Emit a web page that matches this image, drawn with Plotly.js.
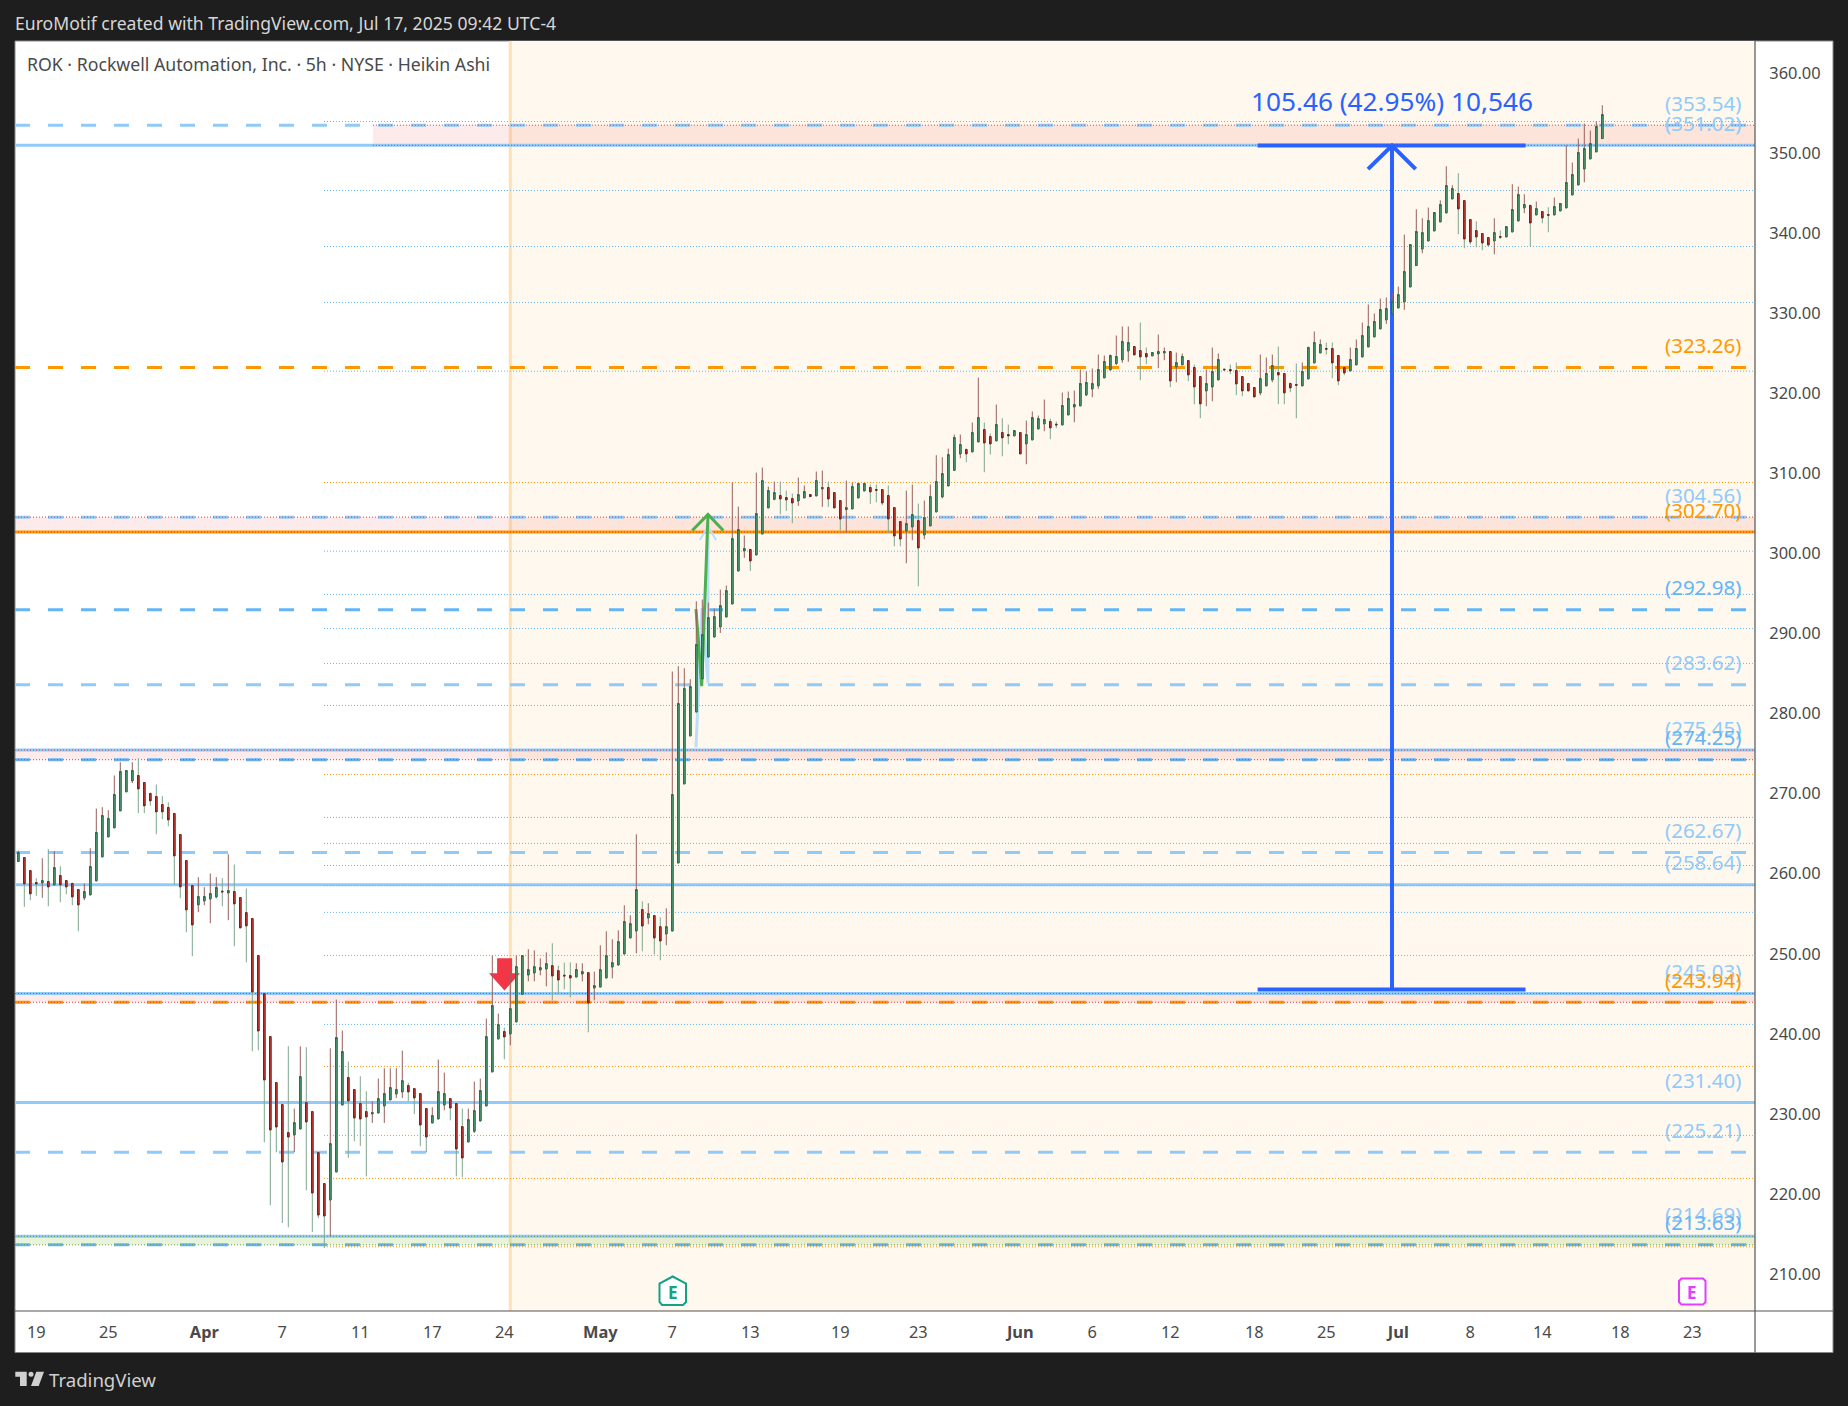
<!DOCTYPE html>
<html><head><meta charset="utf-8">
<script src="https://cdn.plot.ly/plotly-3.0.1.min.js"></script>
<style>html,body{margin:0;padding:0;background:#1e1e1e;}#c{width:1848px;height:1406px;}</style>
</head><body><div id="c"></div>
<script>
const openPrices=[261.53,262.03,260.40,258.90,258.86,259.03,258.61,259.78,259.15,258.78,258.03,256.99,257.36,259.11,262.11,264.61,265.74,267.86,270.24,271.61,272.28,271.40,270.03,269.65,268.65,268.28,267.53,264.90,261.65,258.53,256.11,256.61,256.86,257.11,257.82,257.61,257.78,257.03,255.15,254.40,249.78,245.03,239.65,233.90,231.15,227.65,227.36,228.11,231.40,230.28,225.15,221.28,219.24,222.74,231.11,234.53,233.03,231.28,230.28,229.99,230.11,230.99,231.74,232.49,232.74,233.53,233.15,232.53,230.65,228.86,229.36,231.11,231.90,231.28,228.40,226.49,227.82,229.11,230.99,235.24,239.36,240.28,239.99,241.49,244.93,247.35,247.60,247.98,248.10,248.52,247.89,247.31,247.27,247.10,247.48,247.64,245.73,245.85,246.98,248.35,248.60,249.98,251.98,252.85,255.52,254.48,254.77,253.39,252.48,252.85,261.35,271.23,277.23,280.22,284.34,287.09,289.59,290.84,292.09,293.72,297.84,300.34,300.51,299.84,302.47,305.72,306.80,307.26,307.01,306.88,306.59,306.97,307.38,307.22,308.09,308.26,307.63,306.63,305.51,305.59,306.97,307.84,308.26,308.01,308.01,307.26,305.76,304.01,302.84,303.34,304.13,302.34,303.47,305.22,307.09,308.47,310.42,312.47,313.01,312.72,313.97,315.51,314.63,314.09,315.13,314.88,314.72,315.13,313.72,314.22,315.59,316.22,316.51,316.17,316.09,317.34,318.34,318.47,319.84,320.59,320.97,321.97,322.97,323.76,324.22,325.34,325.88,325.38,325.01,324.72,324.97,325.09,325.26,323.34,323.59,324.13,323.26,322.13,320.34,320.84,321.72,323.05,323.01,322.88,322.13,321.26,320.76,320.09,320.97,321.72,322.63,322.51,321.26,321.13,320.97,321.84,323.84,325.09,325.63,325.63,324.76,323.26,322.84,323.59,324.59,325.84,327.09,328.09,329.22,329.96,330.71,331.46,333.33,336.00,338.08,339.08,340.33,341.46,342.58,344.33,345.00,344.12,341.75,340.37,340.00,339.50,339.08,339.62,339.58,340.21,341.58,343.21,343.50,342.33,342.75,342.37,342.33,342.83,343.21,344.83,346.08,348.08,349.33,350.21,351.87];
const highPrices=[262.90,262.03,260.40,259.44,261.94,263.07,262.82,260.94,259.15,258.90,258.03,258.78,263.19,268.15,268.32,267.94,272.28,273.94,272.90,273.94,274.44,271.40,270.15,271.15,269.69,268.94,267.53,264.90,261.65,258.53,259.57,258.32,260.03,259.57,259.44,262.44,261.15,257.03,258.15,254.40,249.78,245.03,239.65,233.90,231.15,238.44,230.65,238.44,238.32,230.28,225.15,221.28,238.19,244.28,240.40,236.53,233.03,234.69,232.82,231.57,234.40,235.69,235.69,235.69,237.90,233.90,233.15,232.53,230.65,230.82,236.78,235.15,231.99,231.28,230.65,230.65,234.03,234.40,241.90,249.78,242.53,240.78,247.90,249.78,249.77,250.56,250.43,249.43,250.18,251.31,248.52,248.89,248.93,248.81,248.81,247.64,247.77,251.06,252.81,251.81,252.93,256.06,254.81,264.93,256.56,256.31,254.77,254.56,255.68,285.27,285.93,285.68,284.31,294.05,294.26,293.88,293.13,295.51,296.01,308.88,305.88,302.26,300.51,310.13,310.76,308.38,309.01,309.01,307.88,307.51,309.51,308.51,307.38,310.26,310.38,309.01,307.63,306.63,309.13,308.88,308.84,308.84,308.63,308.63,308.01,308.51,305.76,304.01,307.88,308.63,306.26,306.63,308.63,312.30,312.05,313.13,314.88,314.88,313.13,316.38,322.01,316.38,315.01,318.63,316.92,316.13,315.38,315.13,316.63,317.76,317.26,319.26,316.88,316.51,320.13,320.26,320.38,323.01,322.80,323.13,324.88,324.76,324.88,327.26,328.38,328.38,325.88,328.88,325.76,325.13,327.38,325.76,325.26,325.13,325.01,324.13,323.63,322.13,323.01,325.76,325.01,323.05,323.63,323.88,322.13,321.26,320.76,324.88,324.51,324.88,325.88,322.51,321.38,323.76,323.88,325.88,327.76,326.76,326.38,326.38,324.76,323.26,325.76,326.76,328.88,331.13,330.01,331.88,332.01,332.62,333.37,339.87,338.62,343.04,341.91,343.25,342.62,344.16,348.41,346.04,347.54,344.12,341.75,341.54,340.00,339.50,341.91,340.37,340.87,346.16,345.87,344.91,343.62,344.00,342.75,343.29,344.50,343.75,351.00,348.87,351.87,353.75,352.87,354.00,356.04];
const lowPrices=[261.53,255.86,256.69,257.24,256.99,255.94,258.61,256.44,257.44,256.07,252.82,256.69,257.36,259.11,262.11,264.61,265.74,267.86,270.24,271.32,267.57,267.57,268.49,264.94,266.82,265.94,258.65,256.94,252.69,249.69,255.19,256.07,253.82,256.94,255.94,254.19,250.94,253.24,248.94,237.82,237.94,226.44,218.57,225.19,216.36,215.82,225.19,228.11,220.44,215.24,216.99,213.24,214.69,222.74,231.11,224.49,226.57,225.99,222.19,228.86,230.11,228.86,231.74,231.99,231.99,231.57,229.99,225.94,225.19,228.86,229.36,230.44,229.19,222.19,222.07,226.49,227.61,229.11,230.99,235.24,239.36,236.82,238.57,241.49,244.93,246.56,246.56,247.31,245.93,244.18,244.93,245.56,244.56,247.10,246.56,240.18,244.18,245.85,246.98,246.93,248.60,249.98,251.98,250.06,250.31,253.68,249.93,249.18,251.06,252.85,261.35,271.23,277.23,280.22,284.34,287.09,289.59,290.09,292.09,293.72,297.84,299.47,297.84,299.84,302.47,305.72,306.67,304.92,305.34,303.80,305.97,306.97,307.13,307.22,305.84,305.84,305.72,302.92,302.59,305.59,306.97,307.84,306.22,306.42,306.05,302.59,300.92,300.92,298.80,301.67,295.92,301.80,303.47,305.22,306.92,308.47,310.42,311.92,311.42,312.72,313.97,310.17,312.38,314.09,312.17,313.67,314.72,312.47,311.17,314.22,315.59,315.30,314.30,315.67,316.09,317.34,316.42,318.47,319.67,319.55,320.59,321.97,322.97,323.55,323.84,323.97,324.84,321.67,323.67,324.72,323.17,324.17,320.80,321.42,323.59,321.55,318.67,316.92,318.42,319.05,321.72,322.97,322.42,319.80,319.67,320.34,319.59,319.80,320.97,321.42,318.67,318.67,320.17,316.92,320.97,321.84,323.84,325.09,324.88,321.92,321.05,322.30,322.84,323.59,324.59,325.84,327.09,328.09,328.72,329.96,330.71,330.46,333.33,336.00,337.54,339.08,340.33,341.46,342.58,344.33,339.91,338.16,338.66,338.29,337.91,338.41,337.41,339.33,339.58,340.21,341.58,342.54,338.37,342.33,341.29,340.16,342.33,342.83,343.21,344.83,346.08,346.41,349.33,350.21,351.87];
const closePrices=[262.65,258.74,257.49,258.74,259.15,258.36,260.78,258.61,258.36,257.11,256.11,257.78,260.90,265.15,267.28,266.90,269.90,272.78,272.90,272.90,270.61,268.49,269.11,267.74,267.74,266.74,262.24,258.36,255.49,253.61,257.15,257.15,257.53,258.28,257.74,257.90,256.24,253.24,253.49,245.24,240.36,234.24,227.99,228.36,223.99,227.11,228.90,234.65,228.99,220.11,217.36,217.24,226.28,239.53,237.78,231.61,229.49,229.36,229.61,230.15,231.90,232.53,233.28,233.03,234.15,232.74,231.99,228.61,227.11,229.78,232.78,232.53,230.74,225.61,224.49,229.28,230.40,232.90,239.65,243.53,241.15,239.61,243.15,248.40,249.77,248.02,248.39,248.27,248.77,247.23,246.73,247.23,246.98,248.02,247.77,243.85,246.02,248.02,249.77,248.89,251.52,254.02,253.77,258.02,253.48,255.02,251.98,251.60,253.39,269.89,281.27,283.14,283.39,288.63,289.88,292.01,292.13,293.51,295.38,301.88,303.01,300.63,299.09,305.01,309.13,307.88,307.63,306.84,306.72,306.34,307.38,307.76,307.13,309.13,308.26,306.84,305.72,304.34,305.76,308.38,308.76,308.76,307.72,307.92,306.34,304.34,302.22,301.84,303.76,304.88,300.72,304.51,307.13,309.01,310.01,312.38,314.51,313.63,312.47,315.13,317.01,313.84,313.72,316.13,314.47,314.72,315.38,312.47,314.88,317.01,316.88,316.76,315.72,316.09,318.51,319.38,318.63,321.26,321.38,321.26,323.01,324.01,324.76,324.63,326.51,326.38,324.84,324.59,324.59,325.13,325.26,325.26,321.59,323.88,324.63,322.34,320.84,318.72,321.26,322.76,324.26,322.97,322.84,321.22,320.34,320.34,319.59,321.88,322.51,323.51,322.34,320.09,320.72,321.05,322.76,325.76,326.38,326.13,325.55,323.84,321.59,322.59,324.26,325.63,327.26,328.38,329.01,330.51,330.63,331.54,332.37,335.25,338.62,340.25,340.12,341.62,342.62,343.62,346.00,345.62,343.08,339.33,338.96,339.58,338.83,338.58,340.12,339.54,340.87,343.00,344.87,343.62,341.33,343.12,341.96,342.29,343.37,343.75,346.37,347.37,350.12,350.62,351.25,353.37,354.87];

const yTicks=[210,220,230,240,250,260,270,280,290,300,310,320,330,340,350,360];
const xTickIdx=[3,15,31,44,57,69,81,97,109,122,137,150,167,179,192,206,218,230,242,254,267,279];
const xTickText=['19','25','<b>Apr</b>','7','11','17','24','<b>May</b>','7','13','19','23','<b>Jun</b>','6','12','18','25','<b>Jul</b>','8','14','18','23'];

const solidBlue=[351.02,275.45,258.64,245.03,231.40,214.69];
const dashedBlue=[353.54,304.56,283.62,262.67,225.21];
const dashedDeep=[292.98,274.25,213.63];
const solidOrange=[302.70];
const dashedOrange=[323.26,243.94];
const dottedBlue=[354.0,345.38,338.38,331.39,322.80,300.31,294.90,290.65,286.28,281.03,267.04,263.79,261.03,258.54,255.17,241.17];
const dottedOrange=[308.89,272.41,249.79,235.92,227.30,221.93,213.38];
const redZones=[[353.54,351.02,59.1],[304.56,302.70,-0.55],[275.45,274.25,-0.55],[245.03,243.94,-0.55]];
const greenZones=[[214.69,213.63,-0.55]];
const levelLabels=[['(353.54)',353.54,'#90CAF9'],['(351.02)',351.02,'#90CAF9'],['(323.26)',323.26,'#FF9800'],['(304.56)',304.56,'#90CAF9'],['(302.70)',302.70,'#FF9800'],['(292.98)',292.98,'#64B5F6'],['(283.62)',283.62,'#90CAF9'],['(275.45)',275.45,'#90CAF9'],['(274.25)',274.25,'#64B5F6'],['(262.67)',262.67,'#90CAF9'],['(258.64)',258.64,'#90CAF9'],['(245.03)',245.03,'#90CAF9'],['(243.94)',243.94,'#FF9800'],['(231.40)',231.40,'#90CAF9'],['(225.21)',225.21,'#90CAF9'],['(214.69)',214.69,'#90CAF9'],['(213.63)',213.63,'#64B5F6']];
const rangeText='105.46 (42.95%) 10,546';
const rangeTop=351.0, rangeBottom=245.54, rangeLeft=206.55, rangeRight=251.2, rangeMid=228.95;
const greenArrow=[[112.95,293.06],[113.9,283.44],[114.95,304.9]];
const greenHead=[[112.33,302.9],[114.95,304.9],[117.5,302.9]];
const paleArrow=[[112.95,275.8],[113.95,293.2],[114.95,283.8],[114.95,304.0]];
const paleHead=[[113.6,301.7],[114.95,303.4],[116.3,301.7]];
const redMarker=[[79.8,249.45],[82.3,249.45],[82.3,247.58],[83.6,247.58],[81.03,245.41],[78.45,247.58],[79.8,247.58]];

const W=1848,H=1406,L=15,R=93,T=41,B=95;
const xMin=-0.55,xMax=289.45,yMin=205.36,yMax=364.06;
const px=v=>(v-L)/(W-L-R), py=v=>1-(v-T)/(H-T-B);
const pathData=a=>a.map((p,i)=>(i?'L':'M')+p[0]+' '+p[1]).join(' ');
const pathPx=a=>a.map((p,i)=>(i?'L':'M')+px(p[0])+' '+py(p[1])).join(' ');

const shapes=[];
function hline(y,color,w,dash,x0,x1){shapes.push({type:'line',xref:'x',yref:'y',layer:'below',x0:x0===undefined?xMin:x0,x1:x1===undefined?xMax:x1,y0:y,y1:y,line:{color,width:w,dash:dash||'solid'}});}
shapes.push({type:'rect',xref:'paper',yref:'paper',layer:'below',x0:px(15),x1:px(1833),y0:py(1352.5),y1:py(41),fillcolor:'#ffffff',line:{color:'#8a8a8a',width:1}});
shapes.push({type:'rect',xref:'x',yref:'y',layer:'below',x0:82,x1:xMax,y0:yMin,y1:yMax,fillcolor:'#FFF8EE',line:{width:0}});
shapes.push({type:'line',xref:'x',yref:'y',layer:'below',x0:82,x1:82,y0:yMin,y1:yMax,line:{color:'#FFE0B2',width:3}});
redZones.forEach(z=>shapes.push({type:'rect',xref:'x',yref:'y',layer:'below',x0:z[2],x1:xMax,y0:z[1],y1:z[0],fillcolor:'rgba(229,57,53,0.1)',line:{width:0}}));
greenZones.forEach(z=>shapes.push({type:'rect',xref:'x',yref:'y',layer:'below',x0:z[2],x1:xMax,y0:z[1],y1:z[0],fillcolor:'rgba(139,195,74,0.2)',line:{width:0}}));
const D='15px,18px',DOT='1px,2px';
solidBlue.forEach(v=>hline(v,'#90CAF9',3));
dashedBlue.forEach(v=>hline(v,'#90CAF9',3,D));
dashedDeep.forEach(v=>hline(v,'#64B5F6',3,D));
solidOrange.forEach(v=>hline(v,'#FF9800',3));
dashedOrange.forEach(v=>hline(v,'#FF9800',3,D));
dottedBlue.forEach(v=>hline(v,'#64B5F6',1,DOT,50.95,289.1));
dottedOrange.forEach(v=>hline(v,'#FF9800',1,DOT,50.95,289.1));
redZones.forEach(z=>{hline(z[0],'#E53935',1,DOT,z[2]);hline(z[1],'#E53935',1,DOT,z[2]);});
greenZones.forEach(z=>{hline(z[0],'#689F38',1,DOT,z[2]);hline(z[1],'#689F38',1,DOT,z[2]);});
hline(rangeTop,'#2962FF',4,'solid',rangeLeft,rangeRight);
hline(rangeBottom,'#2962FF',4,'solid',rangeLeft,rangeRight);
shapes.push({type:'line',xref:'x',yref:'y',layer:'below',x0:rangeMid,x1:rangeMid,y0:rangeBottom,y1:rangeTop,line:{color:'#2962FF',width:4}});
shapes.push({type:'path',xref:'x',yref:'y',layer:'below',path:pathData([[224.95,348.04],[rangeMid,rangeTop],[232.9,348.04]]),line:{color:'#2962FF',width:4}});
shapes.push({type:'path',xref:'x',yref:'y',layer:'below',path:pathData(paleArrow),line:{color:'#BBDEFB',width:3}});
shapes.push({type:'path',xref:'x',yref:'y',layer:'below',path:pathData(paleHead),line:{color:'#BBDEFB',width:2}});
shapes.push({type:'path',xref:'x',yref:'y',layer:'below',path:pathData(greenArrow),line:{color:'#4CAF50',width:3}});
shapes.push({type:'path',xref:'x',yref:'y',layer:'below',path:pathData(greenHead),line:{color:'#4CAF50',width:3}});
shapes.push({type:'path',xref:'x',yref:'y',layer:'below',path:pathData(redMarker)+' Z',fillcolor:'#F23645',line:{width:0}});
shapes.push({type:'line',xref:'paper',yref:'paper',layer:'above',x0:px(1755),x1:px(1755),y0:py(41),y1:py(1352.5),line:{color:'#555555',width:1.2}});
shapes.push({type:'line',xref:'paper',yref:'paper',layer:'above',x0:px(15),x1:px(1833),y0:py(1311),y1:py(1311),line:{color:'#555555',width:1.2}});
shapes.push({type:'path',xref:'paper',yref:'paper',layer:'above',path:pathPx([[672.7,1276.5],[686,1283.5],[686,1302],[683,1305],[662,1305],[659.5,1302],[659.5,1283.5]])+' Z',fillcolor:'#ffffff',line:{color:'#16A085',width:2}});
shapes.push({type:'path',xref:'paper',yref:'paper',layer:'above',path:pathPx([[1681.5,1278.5],[1703,1278.5],[1705.5,1281],[1705.5,1302],[1703,1304.5],[1681.5,1304.5],[1679,1302],[1679,1281]])+' Z',fillcolor:'#ffffff',line:{color:'#E040FB',width:2}});
shapes.push({type:'path',xref:'paper',yref:'paper',layer:'above',path:pathPx([[15.3,1371.7],[26.7,1371.7],[26.7,1386],[20,1386],[20,1376.7],[15.3,1376.7]])+' Z',fillcolor:'#d0d0d0',line:{width:0}});
shapes.push({type:'path',xref:'paper',yref:'paper',layer:'above',path:pathPx([[44,1371.7],[38.7,1386],[31,1386],[36.3,1371.7]])+' Z',fillcolor:'#d0d0d0',line:{width:0}});
shapes.push({type:'circle',xref:'paper',yref:'paper',layer:'above',x0:px(28.5),x1:px(33.5),y0:py(1376.7),y1:py(1371.7),fillcolor:'#d0d0d0',line:{width:0}});

const annotations=[];
levelLabels.forEach(l=>annotations.push({xref:'x',yref:'y',x:280.75,y:l[1],yshift:22.5,text:l[0],showarrow:false,xanchor:'center',yanchor:'middle',font:{family:'Noto Sans',size:20.5,color:l[2]}}));
annotations.push({xref:'x',yref:'y',x:rangeMid,y:rangeTop,yshift:45,text:rangeText,showarrow:false,xanchor:'center',yanchor:'middle',font:{family:'Noto Sans',size:26.2,color:'#2962FF'}});
function pxText(text,x,y,anchor,size,color){annotations.push({xref:'paper',yref:'paper',x:px(x),y:py(y),text,showarrow:false,xanchor:anchor,yanchor:'middle',font:{family:'Noto Sans',size,color},borderpad:0,borderwidth:0});}
pxText('EuroMotif created with TradingView.com, Jul 17, 2025 09:42 UTC-4',15,23,'left',17.6,'#d6d6d6');
pxText('ROK · Rockwell Automation, Inc. · 5h · NYSE · Heikin Ashi',27,63.7,'left',17.7,'#4a4a4a');
pxText('TradingView',49,1379,'left',18.6,'#d0d0d0');
pxText('<b>E</b>',672.7,1292.5,'center',17,'#16A085');
pxText('<b>E</b>',1692.2,1292,'center',17,'#E040FB');

const idx=openPrices.map((_,i)=>i);
const bodyHigh=openPrices.map((o,i)=>Math.max(o,closePrices[i]));
const bodyLow=openPrices.map((o,i)=>Math.min(o,closePrices[i]));
const wicks={type:'candlestick',x:idx,open:openPrices,high:highPrices,low:lowPrices,close:closePrices,whiskerwidth:0,hoverinfo:'skip',showlegend:false,
  increasing:{line:{color:'#96605A',width:1},fillcolor:'#96605A'},decreasing:{line:{color:'#7FA58F',width:1},fillcolor:'#7FA58F'}};
const bodies={type:'candlestick',x:idx,open:openPrices,high:bodyHigh,low:bodyLow,close:closePrices,whiskerwidth:0,hoverinfo:'skip',showlegend:false,
  increasing:{line:{color:'#2C6B4B',width:1},fillcolor:'#57A878'},decreasing:{line:{color:'#6E241C',width:1},fillcolor:'#E53935'}};

const layout={width:W,height:H,margin:{l:L,r:R,t:T,b:B,pad:0,autoexpand:false},paper_bgcolor:'#1e1e1e',plot_bgcolor:'rgba(0,0,0,0)',showlegend:false,boxgap:0.62,boxmode:'overlay',
  dragmode:false,hovermode:false,font:{family:'Noto Sans',color:'#4a4a4a',size:16},
  xaxis:{type:'linear',range:[xMin,xMax],rangeslider:{visible:false},tickmode:'array',tickvals:xTickIdx,ticktext:xTickText,showgrid:false,zeroline:false,showline:false,ticks:'outside',ticklen:6,tickcolor:'rgba(0,0,0,0)',tickfont:{family:'Noto Sans',size:16.4,color:'#4a4a4a'}},
  yaxis:{side:'right',range:[yMin,yMax],tickmode:'array',tickvals:yTicks,ticktext:yTicks.map(v=>v.toFixed(2)),showgrid:false,zeroline:false,showline:false,ticks:'outside',ticklen:10,tickcolor:'rgba(0,0,0,0)',tickfont:{family:'Noto Sans',size:16.4,color:'#4a4a4a'}},
  shapes,annotations};
Plotly.newPlot('c',[wicks,bodies],layout,{displayModeBar:false,staticPlot:true});
</script></body></html>
